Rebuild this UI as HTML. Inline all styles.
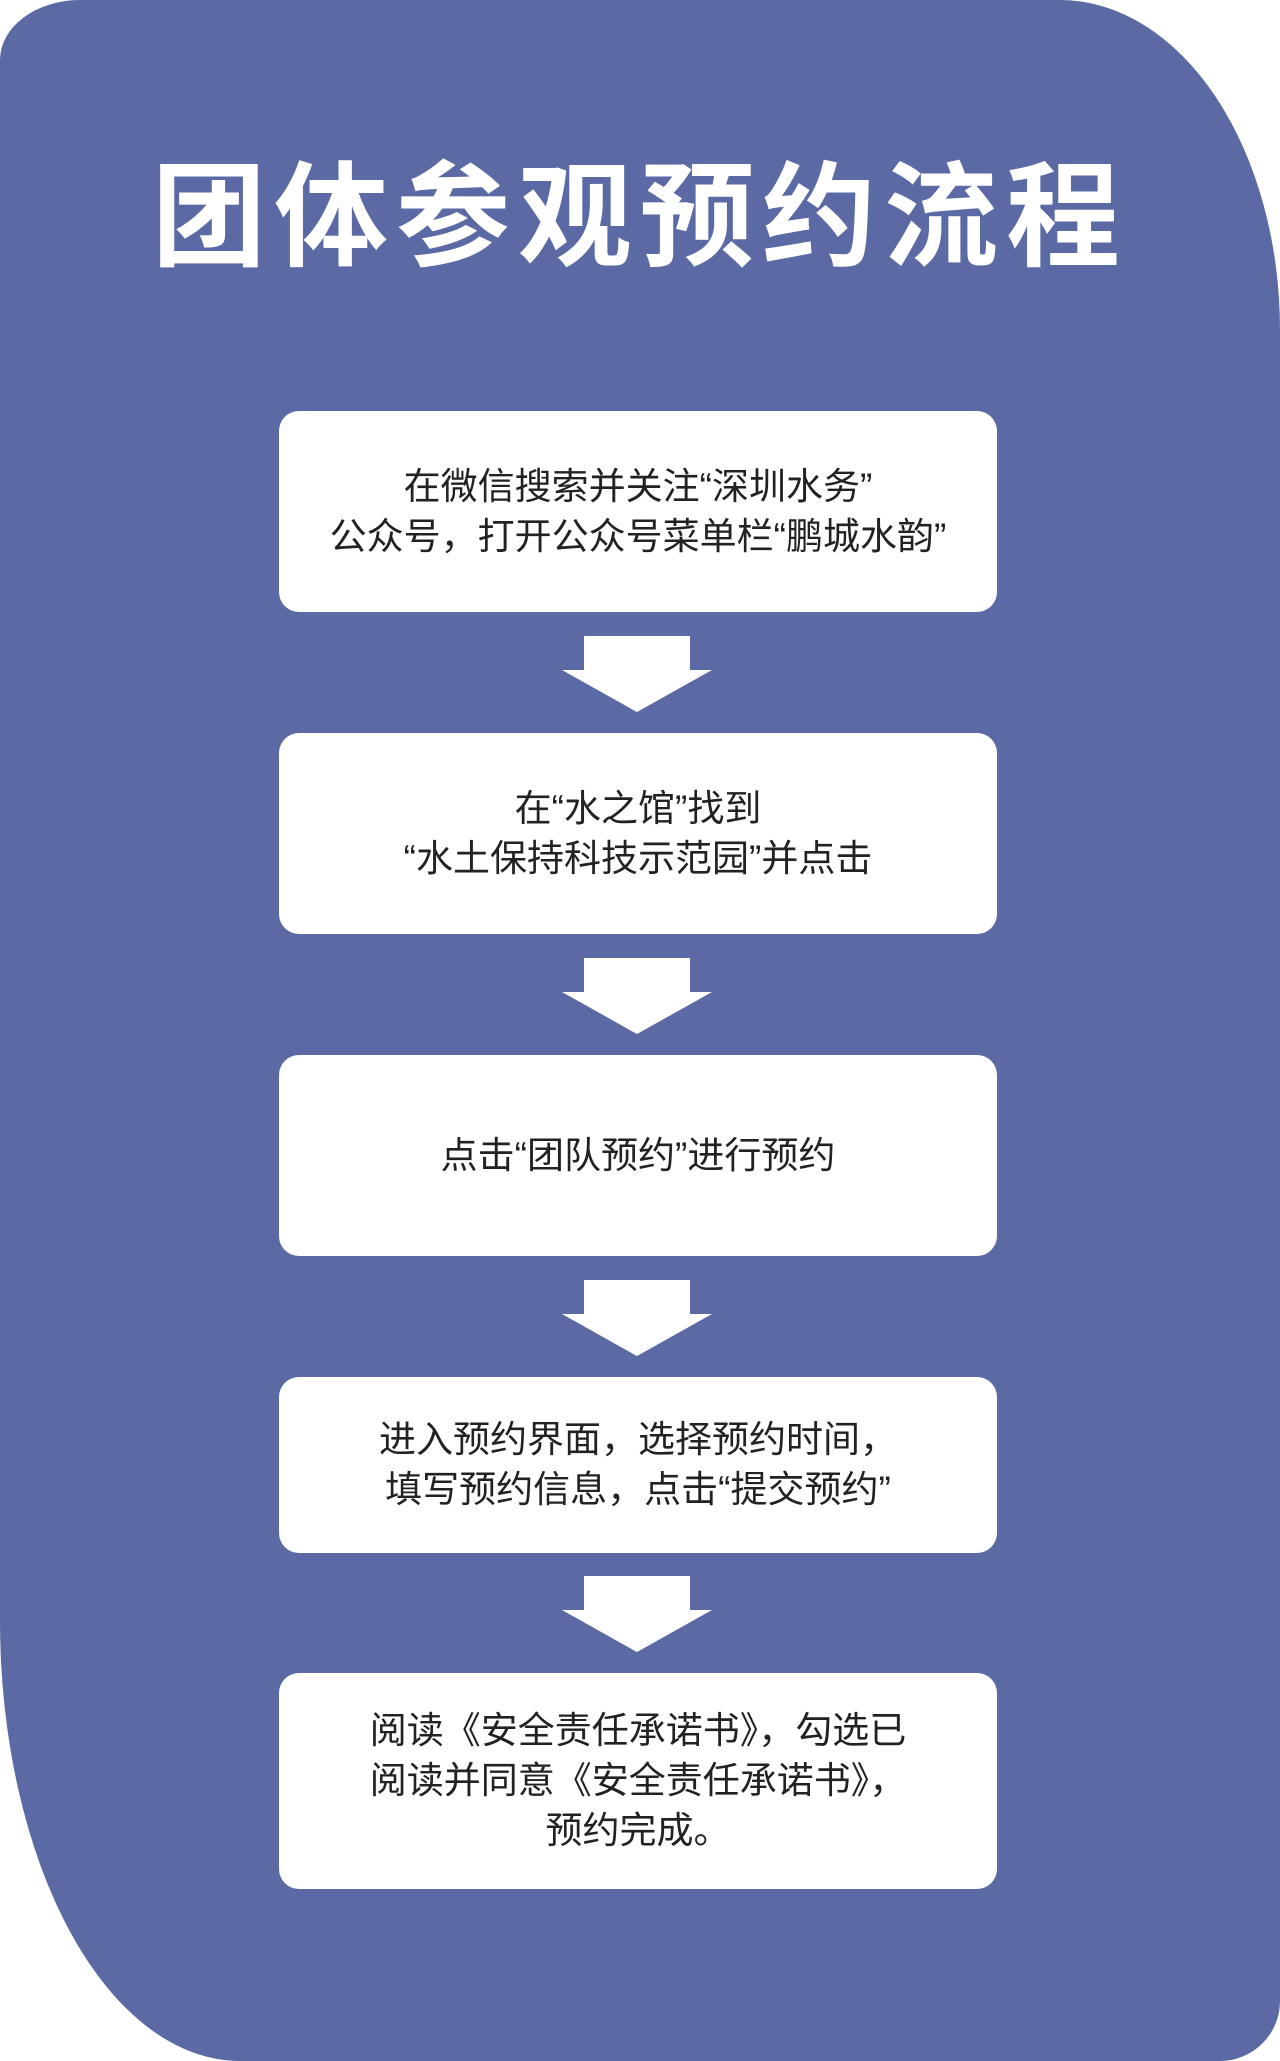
<!DOCTYPE html>
<html><head><meta charset="utf-8"><style>
html,body{margin:0;padding:0;background:#fff}
body{width:1280px;height:2061px;position:relative;overflow:hidden;font-family:"Liberation Sans","Noto Sans CJK SC",sans-serif}
.bg{position:absolute;left:0;top:0;width:1280px;height:2061px;background:#5b6aa5;border-radius:80px 220px 60px 240px / 60px 330px 60px 440px}
.title{position:absolute;left:0;width:1280px;top:133px;text-align:center;color:#fff;font-family:"Noto Sans CJK SC",sans-serif;font-weight:700;font-size:114px;line-height:150px;letter-spacing:8px;transform:scaleX(1.0)}
.box{position:absolute;left:279px;width:718px;background:#fff;border-radius:20px;display:flex;align-items:center;justify-content:center;text-align:center;color:#222;font-size:37px;line-height:50px;font-family:"Liberation Sans","Noto Sans CJK SC",sans-serif}
.arr{position:absolute;left:562px;width:150px;height:76px}
</style></head><body>
<div class="bg"></div>
<div class="title">团体参观预约流程</div>
<div class="box" style="top:411px;height:201px">在微信搜索并关注“深圳水务”<br>公众号，打开公众号菜单栏“鹏城水韵”</div>
<svg class="arr" style="top:636px" viewBox="0 0 150 76"><polygon points="22,0 128,0 128,34 150,34 75,76 0,34 22,34" fill="#fff"/></svg>
<div class="box" style="top:733px;height:201px">在“水之馆”找到<br>“水土保持科技示范园”并点击</div>
<svg class="arr" style="top:958px" viewBox="0 0 150 76"><polygon points="22,0 128,0 128,34 150,34 75,76 0,34 22,34" fill="#fff"/></svg>
<div class="box" style="top:1055px;height:201px">点击“团队预约”进行预约</div>
<svg class="arr" style="top:1280px" viewBox="0 0 150 76"><polygon points="22,0 128,0 128,34 150,34 75,76 0,34 22,34" fill="#fff"/></svg>
<div class="box" style="top:1377px;height:176px">进入预约界面，选择预约时间，<br>填写预约信息，点击“提交预约”</div>
<svg class="arr" style="top:1576px" viewBox="0 0 150 76"><polygon points="22,0 128,0 128,34 150,34 75,76 0,34 22,34" fill="#fff"/></svg>
<div class="box" style="top:1673px;height:216px">阅读《安全责任承诺书》，勾选已<br>阅读并同意《安全责任承诺书》，<br>预约完成。</div>
</body></html>
